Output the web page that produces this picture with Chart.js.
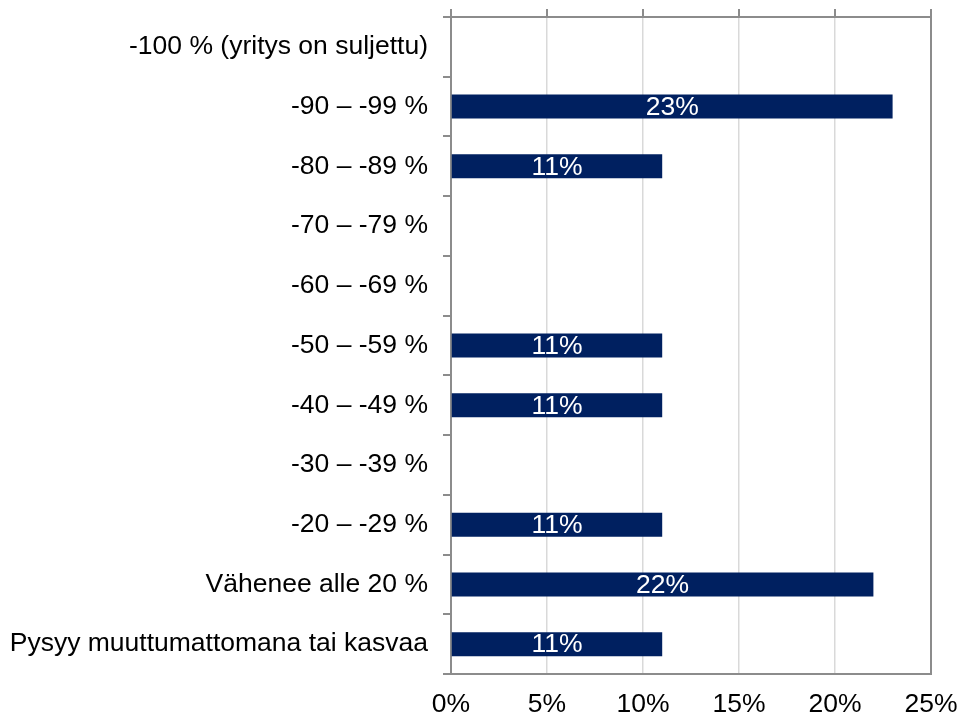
<!DOCTYPE html>
<html>
<head>
<meta charset="utf-8">
<script src="https://cdn.jsdelivr.net/npm/chart.js@4/dist/chart.umd.min.js"></script>
<style>
  html, body { margin: 0; padding: 0; background: #fff; }
  #wrap { width: 960px; height: 716px; }
</style>
</head>
<body>
<div id="wrap"><canvas id="chart" width="960" height="716"></canvas></div>
<script>
'use strict';

let categories = [
  '-100 % (yritys on suljettu)',
  '-90 – -99 %',
  '-80 – -89 %',
  '-70 – -79 %',
  '-60 – -69 %',
  '-50 – -59 %',
  '-40 – -49 %',
  '-30 – -39 %',
  '-20 – -29 %',
  'Vähenee alle 20 %',
  'Pysyy muuttumattomana tai kasvaa'
];
let shares = [0, 23, 11, 0, 0, 11, 11, 0, 11, 22, 11];
let xTicks = [0, 5, 10, 15, 20, 25];

let axisGray = '#8c8c8c';
let font = { family: '"Liberation Sans", Arial, sans-serif', size: 26.5 };

// white value labels in the middle of each bar
let barLabels = {
  id: 'barLabels',
  afterDatasetsDraw(chart) {
    let ctx = chart.ctx;
    let meta = chart.getDatasetMeta(0);
    ctx.save();
    ctx.fillStyle = '#ffffff';
    ctx.font = font.size + 'px ' + font.family;
    ctx.textAlign = 'center';
    ctx.textBaseline = 'middle';
    meta.data.forEach((bar, i) => {
      if (!shares[i]) return;
      let x = (bar.x + bar.base) / 2;
      ctx.fillText(shares[i] + '%', x, bar.y + 1);
    });
    ctx.restore();
  }
};

function noPad(s) {
  s.paddingLeft = 0; s.paddingRight = 0; s.paddingTop = 0; s.paddingBottom = 0;
}

let canvasElem = document.getElementById('chart');

let data = {
  labels: categories,
  datasets: [{
    data: shares,
    backgroundColor: '#002060',
    barThickness: 24,
    inflateAmount: 0,
    xAxisID: 'x',
    yAxisID: 'y'
  }]
};

let config = {
  type: 'bar',
  data: data,
  plugins: [barLabels],
  options: {
    indexAxis: 'y',
    responsive: false,
    animation: false,
    layout: { padding: { left: 0, right: 29, top: 0, bottom: 0 } },
    plugins: { legend: { display: false }, tooltip: { enabled: false } },
    scales: {
      x: {
        position: 'bottom',
        min: 0, max: 25,
        afterBuildTicks: s => { s.ticks = xTicks.map(v => ({ value: v })); },
        ticks: { color: '#000', font: font, padding: 15, maxRotation: 0, callback: v => v + '%' },
        grid: {
          drawTicks: false,
          lineWidth: 1.5,
          color: c => (c.tick && (c.tick.value === 0 || c.tick.value === 25)) ? 'rgba(0,0,0,0)' : '#d9d9d9'
        },
        border: { color: axisGray, width: 2 },
        afterFit: s => { s.height = 42; noPad(s); }
      },
      x2: {
        position: 'top',
        min: 0, max: 25,
        afterBuildTicks: s => { s.ticks = xTicks.map(v => ({ value: v })); },
        ticks: { display: false },
        grid: { drawOnChartArea: false, tickLength: 8, color: axisGray, lineWidth: 2 },
        border: { color: axisGray, width: 2 },
        afterFit: s => { s.height = 17; noPad(s); }
      },
      y: {
        position: 'left',
        ticks: { color: '#000', font: font, padding: 15 },
        grid: { drawOnChartArea: false, tickLength: 8, color: axisGray, lineWidth: 2, offset: true },
        border: { color: axisGray, width: 2 },
        afterFit: s => { s.width = 451; noPad(s); }
      },
      y2: {
        type: 'linear',
        position: 'right',
        ticks: { display: false },
        grid: { display: false, drawTicks: false },
        border: { color: axisGray, width: 2 },
        afterFit: s => { s.width = 0; noPad(s); }
      }
    }
  }
};

new Chart(canvasElem, config);
</script>
</body>
</html>
